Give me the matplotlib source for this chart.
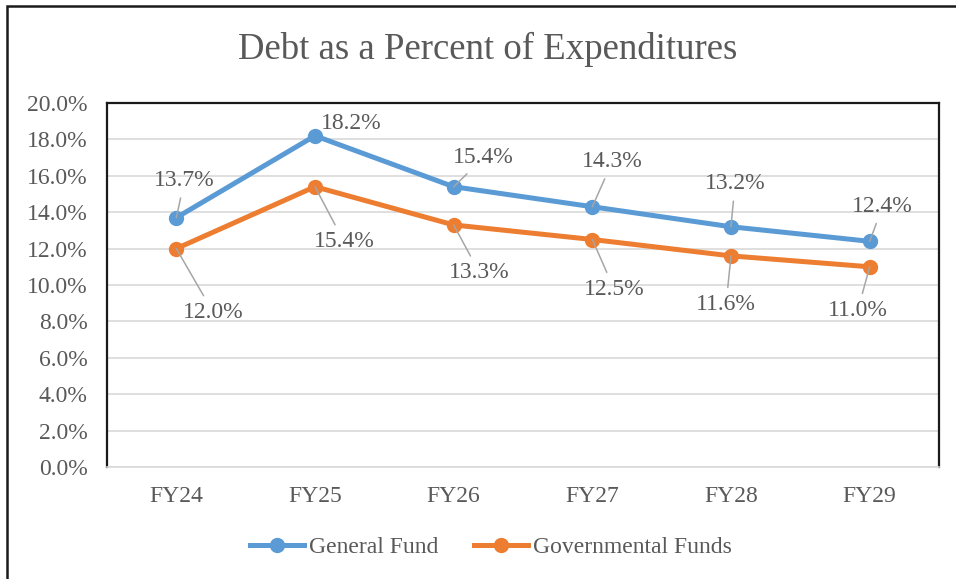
import matplotlib.pyplot as plt
from matplotlib.lines import Line2D
from matplotlib.patches import Rectangle
from matplotlib.ticker import FuncFormatter, MultipleLocator

plt.rcParams['font.family'] = ['Liberation Serif', 'DejaVu Serif']

years = ['FY24', 'FY25', 'FY26', 'FY27', 'FY28', 'FY29']
general_fund = [13.7, 18.2, 15.4, 14.3, 13.2, 12.4]
governmental_funds = [12.0, 15.4, 13.3, 12.5, 11.6, 11.0]

# label offsets in pixels (dx, dy), and whether a leader line is drawn
gf_offsets = [(8, 37), (36, 12), (30, 29), (20, 45), (4, 43), (13, 35)]
gf_leader = [True, False, True, True, True, True]
gov_offsets = [(37, -64), (29, -55), (26, -48), (22, -50), (-5, -49), (-12, -44)]
gov_leader = [True, True, True, True, True, True]

blue = '#5B9BD5'
orange = '#ED7D31'
textc = '#595959'

fig = plt.figure(figsize=(9.56, 5.79), dpi=100)
ax = fig.add_axes([107 / 956, 1 - 467 / 579, (939 - 107) / 956, (467 - 103) / 579])

# outer chart border
fig.patches.append(Rectangle((7 / 956, -0.05), 1.2, 1 - 6 / 579 + 0.05,
                             transform=fig.transFigure, fill=False,
                             edgecolor='#1a1a1a', linewidth=1.8))

x = range(len(years))
ax.plot(x, general_fund, color=blue, lw=3.6, marker='o', ms=10, label='General Fund',
        solid_capstyle='round', zorder=3)
ax.plot(x, governmental_funds, color=orange, lw=3.6, marker='o', ms=10,
        label='Governmental Funds', solid_capstyle='round', zorder=3)

def add_labels(vals, offsets, leaders):
    for i, (v, off, lead) in enumerate(zip(vals, offsets, leaders)):
        props = None
        if lead:
            props = dict(arrowstyle='-', color='#a6a6a6', lw=1.1, shrinkA=3, shrinkB=0)
        ax.annotate(f'{v:.1f}%', xy=(i, v), xytext=off, textcoords='offset pixels',
                    ha='center', va='center', fontsize=17, color=textc,
                    arrowprops=props, zorder=4)

add_labels(general_fund, gf_offsets, gf_leader)
add_labels(governmental_funds, gov_offsets, gov_leader)

ax.set_xlim(-0.5, 5.5)
ax.set_ylim(0, 20)
ax.yaxis.set_major_locator(MultipleLocator(2))
ax.yaxis.set_major_formatter(FuncFormatter(lambda v, p: f'{v:.1f}%'))
ax.set_xticks(list(x))
ax.set_xticklabels(years)
ax.tick_params(length=0, labelsize=17, labelcolor=textc)
ax.tick_params(axis='y', pad=14)
ax.tick_params(axis='x', pad=14)
ax.grid(axis='y', color='#d9d9d9', lw=1.2)
ax.set_axisbelow(True)
for s in ['left', 'top', 'right']:
    ax.spines[s].set_color('#1a1a1a')
    ax.spines[s].set_linewidth(1.6)
ax.spines['bottom'].set_color('#d9d9d9')
ax.spines['bottom'].set_linewidth(1.2)

fig.text(488 / 956, 1 - 49 / 579, 'Debt as a Percent of Expenditures', ha='center',
         va='center', fontsize=26.5, color=textc)

handles = [Line2D([0], [0], color=blue, lw=3.6, marker='o', ms=10),
           Line2D([0], [0], color=orange, lw=3.6, marker='o', ms=10)]
fig.legend(handles, ['General Fund', 'Governmental Funds'], loc='center',
           bbox_to_anchor=(491 / 956, 1 - 547 / 579), ncol=2, frameon=False,
           fontsize=17, labelcolor=textc, handlelength=2.3, handletextpad=0.2,
           columnspacing=1.5)

fig.savefig('out.png', dpi=100)
